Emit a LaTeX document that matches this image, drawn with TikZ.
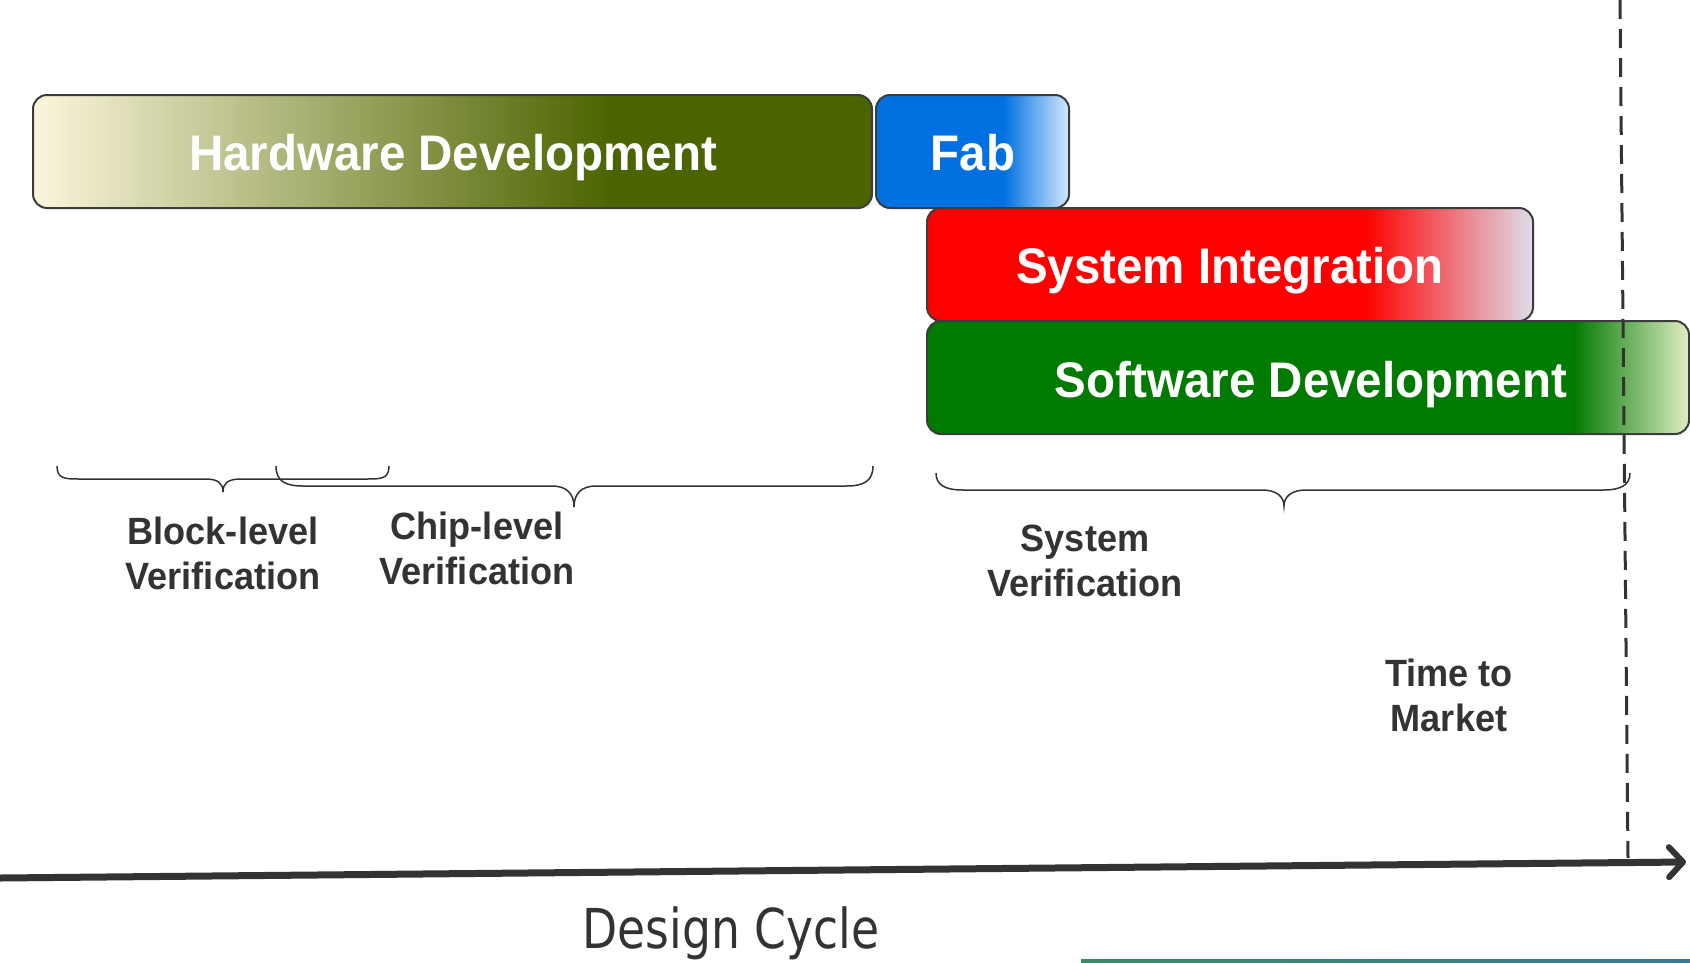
\documentclass[tikz,border=0pt]{standalone}
\usepackage{fontspec}
\usetikzlibrary{arrows.meta}
\newfontfamily\barfont[FakeStretch=0.95]{Liberation Sans}
\newfontfamily\cyclefont[FakeStretch=0.83]{DejaVu Sans}

\definecolor{hwlight}{HTML}{FBF6DC}
\definecolor{hwmid}{HTML}{A3AC6C}
\definecolor{hwdark}{HTML}{4C6400}
\definecolor{fabblue}{HTML}{0070E0}
\definecolor{fablight}{HTML}{D2E9FF}
\definecolor{sired}{HTML}{FF0000}
\definecolor{silight}{HTML}{DEDEEC}
\definecolor{swgreen}{HTML}{007A00}
\definecolor{swlight}{HTML}{E0EDC4}
\definecolor{ink}{HTML}{333333}
\definecolor{edge}{HTML}{3C3C3C}
\definecolor{stripgreen}{HTML}{3E8A68}
\definecolor{stripolive}{HTML}{8E9450}
\definecolor{stripblue}{HTML}{3A7A92}

\tikzset{
  barframe/.style={draw=edge, line width=2pt, rounded corners=14pt},
  bartext/.style={text=white, font=\barfont\bfseries\fontsize{50}{60}\selectfont, anchor=base, inner sep=0pt},
  phasetext/.style={text=ink, font=\barfont\bfseries\fontsize{38}{45}\selectfont, align=center, inner sep=0pt},
  bracestyle/.style={draw=ink, line width=1.5pt},
  timeline/.style={draw=ink, line width=3pt, dash pattern=on 19pt off 10pt},
  axisline/.style={draw=ink, line width=7pt, -{Straight Barb[length=14pt,width=30pt,line width=6pt,round]}},
}

\begin{document}
\begin{tikzpicture}[x=1pt, y=-1pt]
\useasboundingbox (0,0) rectangle (1690,962);
\fill[white] (0,0) rectangle (1690,962);

% Hardware development bar
\begin{scope}
  \clip[rounded corners=14pt] (33,95) rectangle (872,208);
  \shade[left color=hwlight, right color=hwdark, middle color=hwmid] (33,95) rectangle (610,208);
  \fill[hwdark] (609,95) rectangle (872,208);
\end{scope}
\path[barframe] (33,95) rectangle (872,208);
\node[bartext] (hw) at (453,170) {Hardware Development};

% Fab bar
\begin{scope}
  \clip[rounded corners=14pt] (876,95) rectangle (1069,208);
  \fill[fabblue] (876,95) rectangle (1004,208);
  \shade[left color=fabblue, right color=fablight] (1003,95) rectangle (1069,208);
\end{scope}
\path[barframe] (876,95) rectangle (1069,208);
\node[bartext] (fab) at (973,170) {Fab};

% System integration bar
\begin{scope}
  \clip[rounded corners=14pt] (927,208) rectangle (1533,321);
  \fill[sired] (927,208) rectangle (1366,321);
  \shade[left color=sired, right color=silight] (1365,208) rectangle (1533,321);
\end{scope}
\path[barframe] (927,208) rectangle (1533,321);
\node[bartext] (si) at (1230,283) {System Integration};

% Software development bar
\begin{scope}
  \clip[rounded corners=14pt] (927,321) rectangle (1689,434);
  \fill[swgreen] (927,321) rectangle (1574,434);
  \shade[left color=swgreen, right color=swlight] (1573,321) rectangle (1689,434);
\end{scope}
\path[barframe] (927,321) rectangle (1689,434);
\node[bartext] (sw) at (1311,397) {Software Development};

% Verification braces
\path[bracestyle] (57,466) .. controls (57,479) and (65,479) .. (80,479) -- (205,479)
  .. controls (218,479) and (223,483) .. (223,492)
  .. controls (223,483) and (228,479) .. (241,479) -- (366,479)
  .. controls (381,479) and (389,479) .. (389,466);
\path[bracestyle] (276,466) .. controls (276,481) and (285,486) .. (303,486) -- (552,486)
  .. controls (567,486) and (574,494) .. (574,507)
  .. controls (574,494) and (581,486) .. (596,486) -- (846,486)
  .. controls (864,486) and (873,481) .. (873,466);
\path[bracestyle] (936,473) .. controls (936,485) and (945,490) .. (963,490) -- (1262,490)
  .. controls (1277,490) and (1284,497) .. (1284,506)
  .. controls (1284,497) and (1291,490) .. (1306,490) -- (1603,490)
  .. controls (1621,490) and (1630,485) .. (1630,473);

\node[phasetext] (blockv) at (223,553) {Block-level\\Verification};
\node[phasetext] (chipv) at (477,548) {Chip-level\\Verification};
\node[phasetext] (sysv) at (1085,561) {System\\Verification};
\node[phasetext] (ttm) at (1449,695) {Time to\\Market};

% Time-to-market marker
\coordinate (ttmtop) at (1620,0);
\coordinate (ttmbot) at (1628,858);
\path[timeline] (ttmtop) -- (ttmbot);

% Design cycle axis
\coordinate (axstart) at (0,878);
\coordinate (axend) at (1686,862);
\path[axisline] (axstart) -- (axend);
\node[text=ink, font=\cyclefont\fontsize{55}{66}\selectfont, anchor=base, inner sep=0pt] (cycle) at (731,948) {Design Cycle};

% strip along the lower edge
\shade[left color=stripgreen, middle color=stripolive, right color=stripblue] (1081,959) rectangle (1690,962);
\end{tikzpicture}
\end{document}
